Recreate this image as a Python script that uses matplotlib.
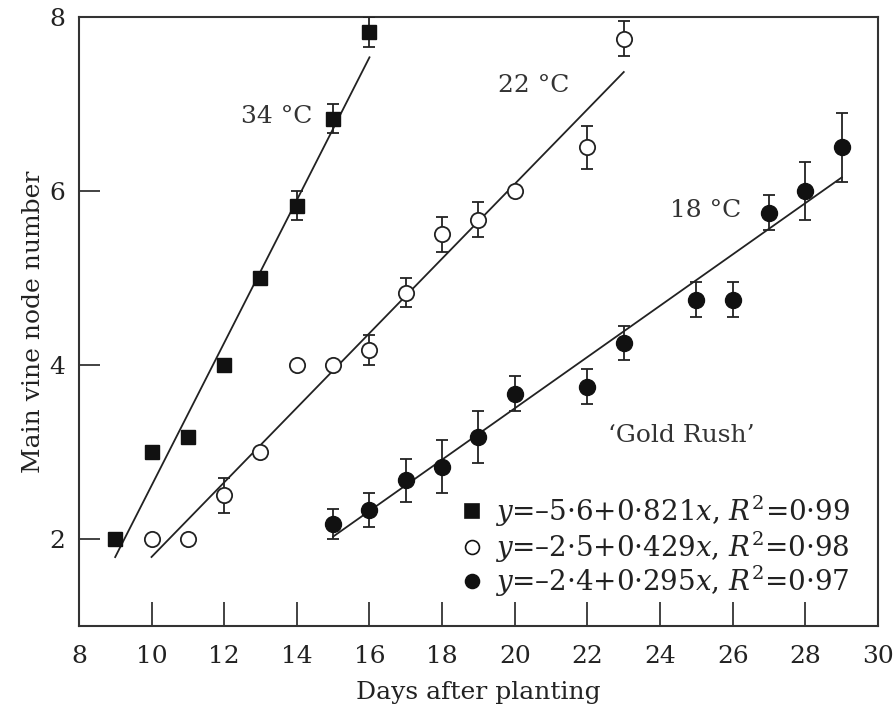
import matplotlib.pyplot as plt
import numpy as np

plt.rcParams['font.family'] = ['DejaVu Serif']
plt.rcParams['mathtext.fontset'] = 'dejavuserif'

# 34 oC (filled squares)
x34 = [9, 10, 11, 12, 13, 14, 15, 16]
y34 = [2.0, 3.0, 3.17, 4.0, 5.0, 5.83, 6.83, 7.83]
e34 = [0, 0, 0, 0, 0, 0.17, 0.17, 0.17]

# 22 oC (open circles)
x22 = [10, 11, 12, 13, 14, 15, 16, 17, 18, 19, 20, 22, 23]
y22 = [2.0, 2.0, 2.5, 3.0, 4.0, 4.0, 4.17, 4.83, 5.5, 5.67, 6.0, 6.5, 7.75]
e22 = [0, 0, 0.2, 0, 0, 0, 0.17, 0.17, 0.2, 0.2, 0, 0.25, 0.2]

# 18 oC (filled circles)
x18 = [15, 16, 17, 18, 19, 20, 22, 23, 25, 26, 27, 28, 29]
y18 = [2.17, 2.33, 2.67, 2.83, 3.17, 3.67, 3.75, 4.25, 4.75, 4.75, 5.75, 6.0, 6.5]
e18 = [0.17, 0.2, 0.25, 0.3, 0.3, 0.2, 0.2, 0.2, 0.2, 0.2, 0.2, 0.33, 0.4]

# fitted lines: intercept, slope, x range
fits = [(-5.6, 0.821, 9, 16), (-2.5, 0.429, 10, 23), (-2.4, 0.295, 15, 29)]

fig = plt.figure(figsize=(8.96, 7.07), dpi=100)
ax = fig.add_axes([0.088, 0.115, 0.892, 0.861])

for a, b, x0, x1 in fits:
    xs = np.array([x0, x1])
    ax.plot(xs, a + b * xs, color='#222222', lw=1.3, zorder=2)

ekw = dict(ecolor='#222222', elinewidth=1.3, capsize=4.5, capthick=1.3, ls='none', zorder=3)
ax.errorbar(x34, y34, yerr=e34, fmt='s', ms=10, mfc='#111111', mec='#111111', **ekw)
ax.errorbar(x22, y22, yerr=e22, fmt='o', ms=11, mfc='white', mec='#222222', mew=1.3, **ekw)
ax.errorbar(x18, y18, yerr=e18, fmt='o', ms=11.5, mfc='#111111', mec='#111111', **ekw)

ax.text(14.42, 6.86, '34 °C', fontsize=18, ha='right', va='center', color='#333333')
ax.text(19.54, 7.21, '22 °C', fontsize=18, ha='left', va='center', color='#333333')
ax.text(24.28, 5.77, '18 °C', fontsize=18, ha='left', va='center', color='#333333')
ax.text(22.57, 3.19, '\u2018Gold Rush\u2019', fontsize=18, ha='left', va='center', color='#333333')

leg_rows = [('s', '#111111', r'$y$=–5·6+0·821$x$, $R^2$=0·99'),
            ('o', 'white', r'$y$=–2·5+0·429$x$, $R^2$=0·98'),
            ('o', '#111111', r'$y$=–2·4+0·295$x$, $R^2$=0·97')]
leg_y = [2.32, 1.90, 1.51]
for (m, fc, txt), yy in zip(leg_rows, leg_y):
    ax.plot([18.83], [yy], marker=m, ms=10, mfc=fc, mec='#111111', mew=1.2, ls='none')
    ax.text(19.45, yy, txt, fontsize=20, ha='left', va='center', color='#222222')

ax.set_xlim(8, 30)
ax.set_ylim(1.0, 8.0)
ax.set_xticks(range(8, 31, 2))
ax.set_yticks([2, 4, 6, 8])
ax.tick_params(axis='x', direction='in', length=17, width=1.2, labelsize=18, pad=14, colors='#222222')
ax.tick_params(axis='y', direction='in', length=15, width=1.2, labelsize=18, pad=10, colors='#222222')
for s in ax.spines.values():
    s.set_linewidth(1.5)
    s.set_color('#333333')
ax.set_xlabel('Days after planting', fontsize=18, labelpad=9, color='#222222')
ax.set_ylabel('Main vine node number', fontsize=18, labelpad=3, color='#222222')

fig.savefig('out.png', dpi=100)
